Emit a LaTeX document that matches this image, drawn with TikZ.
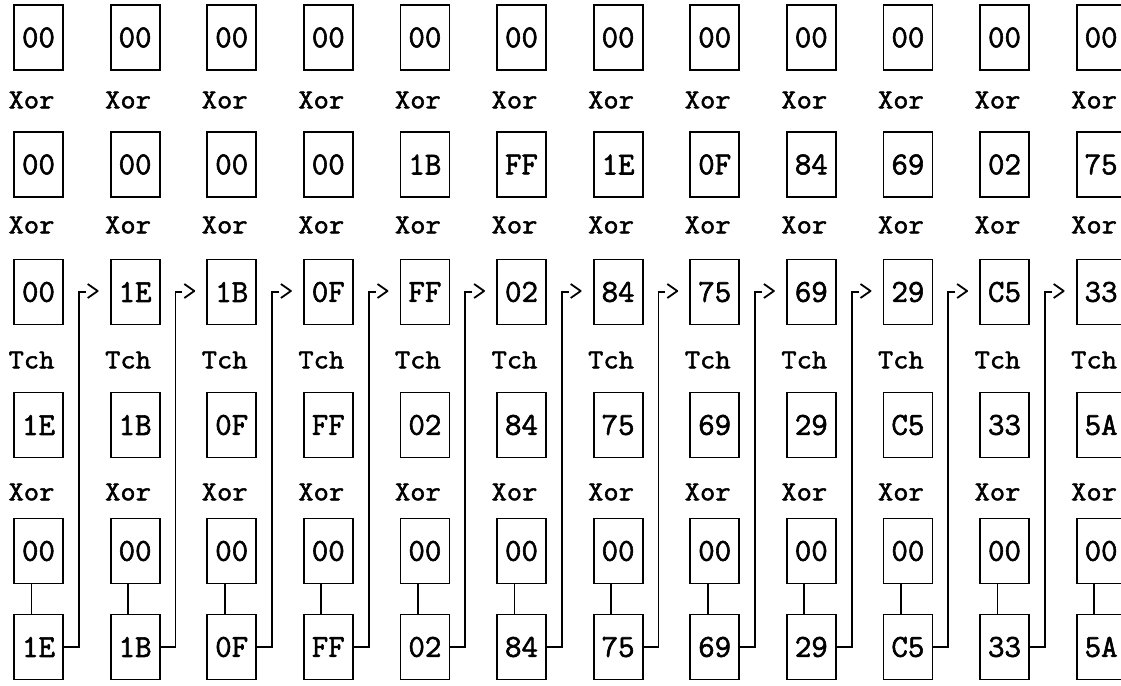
\documentclass[tikz,border=0pt]{standalone}
\usepackage{fontspec}
\newfontfamily\boxfont{Latin Modern Mono}[FakeBold=1.8]
\newfontfamily\labfont{Latin Modern Mono}[FakeStretch=1.08,FakeBold=1.8]
\usetikzlibrary{arrows.meta}
\begin{document}
\begin{tikzpicture}[x=1pt,y=-1pt,
  valbox/.style={draw,line width=1.8pt,minimum width=49pt,minimum height=65pt,inner sep=0pt,
    font=\boxfont\fontsize{32}{32}\selectfont},
  oplabel/.style={inner sep=0pt,font=\labfont\fontsize{27.5}{27.5}\selectfont},
  wire/.style={line width=1.8pt}]
\useasboundingbox (0,0) rectangle (1121,685);
% rows of boxes
\foreach \v [count=\i] in {00,00,00,00,00,00,00,00,00,00,00,00}
  {\node[valbox] (r1c\i) at ({38.5+96.6*(\i-1)},37.5) {\v};}
\foreach \v [count=\i] in {00,00,00,00,1B,FF,1E,0F,84,69,02,75}
  {\node[valbox] (r2c\i) at ({38.5+96.6*(\i-1)},164.5) {\v};}
\foreach \v [count=\i] in {00,1E,1B,0F,FF,02,84,75,69,29,C5,33}
  {\node[valbox] (r3c\i) at ({38.5+96.6*(\i-1)},292) {\v};}
\foreach \v [count=\i] in {1E,1B,0F,FF,02,84,75,69,29,C5,33,5A}
  {\node[valbox] (r4c\i) at ({38.5+96.6*(\i-1)},425) {\v};}
\foreach \v [count=\i] in {00,00,00,00,00,00,00,00,00,00,00,00}
  {\node[valbox] (r5c\i) at ({38.5+96.6*(\i-1)},551) {\v};}
\foreach \v [count=\i] in {1E,1B,0F,FF,02,84,75,69,29,C5,33,5A}
  {\node[valbox] (r6c\i) at ({38.5+96.6*(\i-1)},647) {\v};}
% operation labels
\foreach \i in {1,...,12}{
  \node[oplabel] (xa\i) at ({31.5+96.6*(\i-1)},100) {Xor};
  \node[oplabel] (xb\i) at ({31.5+96.6*(\i-1)},225) {Xor};
  \node[oplabel] (tc\i) at ({31.5+96.6*(\i-1)},360) {Tch};
  \node[oplabel] (xc\i) at ({31.5+96.6*(\i-1)},492) {Xor};
  \draw[wire] ([xshift=-7pt]r5c\i.south) -- ([xshift=-7pt]r6c\i.north);
}
% feedback connectors
\foreach \i in {1,...,11}{
  \pgfmathtruncatemacro\j{\i+1}
  \draw[wire] (r6c\i.east) -- ++(15,0) |- ([xshift=-24pt]r3c\j.west);
  \draw[wire,line join=round] ([xshift=-22pt,yshift=8pt]r3c\j.west) -- ([xshift=-12pt,yshift=1pt]r3c\j.west) -- ([xshift=-22pt,yshift=-6pt]r3c\j.west);
}
\end{tikzpicture}
\end{document}
